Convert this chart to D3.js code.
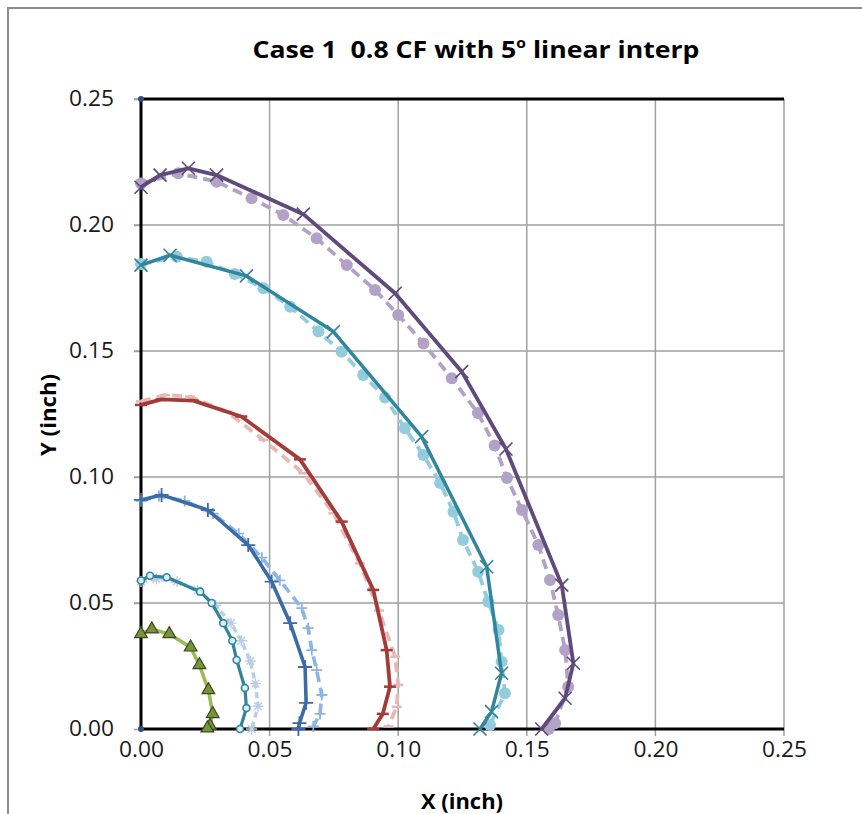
<!DOCTYPE html>
<html><head><meta charset="utf-8">
<script src="https://cdn.jsdelivr.net/npm/d3@7"></script>
<style>body{margin:0;background:#fff}svg{display:block}text{white-space:pre}</style>
</head><body>
<svg id="chart" width="862" height="814"></svg>
<script>
// ---- data ----
const xTicks = [0, 0.05, 0.10, 0.15, 0.20, 0.25];
const yTicks = [0, 0.05, 0.10, 0.15, 0.20, 0.25];

const purpleSolid = [[0,0.2150],[0.0074,0.2198],[0.0184,0.2225],[0.0294,0.2198],[0.0631,0.2043],[0.0988,0.1729],[0.1247,0.1418],[0.1419,0.1111],[0.1636,0.0571],[0.1681,0.0261],[0.1649,0.0122],[0.1558,0]];
const lavenderDashed = [[0,0.2165],[0.0145,0.2205],[0.0294,0.2172],[0.043,0.2106],[0.0553,0.204],[0.0683,0.1947],[0.08,0.1841],[0.091,0.1742],[0.1,0.1643],[0.1098,0.153],[0.1208,0.1392],[0.131,0.1254],[0.1375,0.1125],[0.1423,0.0996],[0.1481,0.0869],[0.1545,0.073],[0.159,0.0591],[0.1622,0.0452],[0.1649,0.0313],[0.1661,0.0168],[0.161,0.0023],[0.1585,0]];
const tealSolid = [[0,0.1841],[0.0113,0.188],[0.041,0.1798],[0.0748,0.1577],[0.1091,0.116],[0.1344,0.0644],[0.1402,0.0221],[0.1363,0.0069],[0.1318,0]];
const cyanDashed = [[0,0.1845],[0.0139,0.1874],[0.0255,0.1854],[0.0365,0.1806],[0.0476,0.1749],[0.058,0.1676],[0.069,0.1577],[0.078,0.1497],[0.0864,0.1405],[0.0949,0.1315],[0.1026,0.1193],[0.1098,0.1087],[0.1163,0.0976],[0.1215,0.0862],[0.1252,0.075],[0.1311,0.0624],[0.135,0.0505],[0.139,0.0393],[0.1402,0.0267],[0.1415,0.0142],[0.1357,0.0016]];
const redSolid = [[0,0.1286],[0.008,0.1308],[0.0203,0.1303],[0.039,0.124],[0.0618,0.107],[0.078,0.0823],[0.0903,0.0552],[0.0955,0.0313],[0.0968,0.0168],[0.094,0.006],[0.0903,0]];
const pinkDashed = [[0,0.1300],[0.0093,0.1325],[0.019,0.1319],[0.0333,0.126],[0.0476,0.1147],[0.0631,0.1015],[0.0748,0.0856],[0.0851,0.0657],[0.0925,0.047],[0.0988,0.0287],[0.1,0.0175],[0.0994,0.0088],[0.0962,0.001]];
const blueSolid = [[0,0.0909],[0.008,0.0929],[0.026,0.0869],[0.0417,0.073],[0.0508,0.0585],[0.058,0.042],[0.0638,0.0246],[0.0642,0.0104],[0.0616,0.0023],[0.0612,0]];
const lightBlueDashed = [[0,0.0905],[0.007,0.0925],[0.017,0.0905],[0.028,0.0855],[0.038,0.0775],[0.047,0.068],[0.054,0.059],[0.0625,0.048],[0.065,0.040],[0.0664,0.0313],[0.0683,0.0234],[0.0703,0.0135],[0.0696,0.006],[0.067,0.001]];
const innerTealSolid = [[0,0.0589],[0.0035,0.0608],[0.010,0.0602],[0.023,0.0545],[0.0275,0.050],[0.032,0.042],[0.0355,0.035],[0.0372,0.0274],[0.0404,0.0163],[0.041,0.0083],[0.0385,0]];
const paleDashed = [[0,0.0585],[0.006,0.0595],[0.014,0.0585],[0.022,0.055],[0.029,0.049],[0.035,0.042],[0.039,0.035],[0.0425,0.027],[0.0445,0.018],[0.0455,0.009],[0.043,0]];
const greenSolid = [[0,0.0377],[0.0042,0.0396],[0.011,0.0377],[0.0193,0.0324],[0.0227,0.0254],[0.0262,0.0155],[0.0279,0.006],[0.0268,0.0013],[0.0258,0.0003]];
const cornerDots = [[0,0.25],[0,0]];

// ---- styles ----
const series = [
  {d: lavenderDashed, color:"#B3A2C7", dash:"10,6", marker:"circle", mfill:"#B3A2C7", r:6, w:3.8},
  {d: purpleSolid, color:"#604A7B", dash:null, marker:"x", r:6.5, w:3.8},
  {d: cyanDashed, color:"#93CDDD", dash:"10,6", marker:"circle", mfill:"#93CDDD", r:6, w:3.8},
  {d: tealSolid, color:"#31859C", dash:null, marker:"x", r:6.5, w:3.5},
  {d: pinkDashed, color:"#E6B9B8", dash:"10,6", marker:"dash", r:5, w:3.8},
  {d: redSolid, color:"#A33C38", dash:null, marker:"dash", r:6, w:3.8},
  {d: lightBlueDashed, color:"#8DB4E2", dash:"10,6", marker:"plus", r:5.5, w:3.6},
  {d: blueSolid, color:"#3B6CA8", dash:null, marker:"plus", r:7, w:3.6},
  {d: paleDashed, color:"#B9CDE5", dash:"6,4", marker:"aster", r:5.5, w:3.4},
  {d: innerTealSolid, color:"#31849B", dash:null, marker:"ocircle", r:3.5, w:3.2},
  {d: greenSolid, color:"#9BBB59", dash:null, marker:"tri", r:6, w:3.6}
];

const svg = d3.select("#chart");
const M = {l:141, r:784, t:99, b:729};
const x = d3.scaleLinear().domain([0,0.25]).range([M.l, M.r]);
const y = d3.scaleLinear().domain([0,0.25]).range([M.b, M.t]);

// frame
svg.append("rect").attr("x",8).attr("y",8).attr("width",880).attr("height",830)
  .attr("fill","none").attr("stroke","#8c8c8c").attr("stroke-width",2);

// gridlines
const grid = svg.append("g");
grid.selectAll(".vg").data(xTicks.slice(1)).join("line")
  .attr("x1",d=>x(d)).attr("x2",d=>x(d)).attr("y1",M.t).attr("y2",M.b+7)
  .attr("stroke","#a0a0a0").attr("stroke-width",1.5);
grid.selectAll(".hg").data(yTicks.slice(1)).join("line")
  .attr("x1",M.l-7).attr("x2",M.r).attr("y1",d=>y(d)).attr("y2",d=>y(d))
  .attr("stroke","#a0a0a0").attr("stroke-width",1.5);

// axes with labels
const xAxis = svg.append("g").attr("transform",`translate(0,${M.b})`)
  .call(d3.axisBottom(x).tickValues(xTicks).tickFormat(d3.format(".2f")).tickSize(0).tickPadding(26));
const yAxis = svg.append("g").attr("transform",`translate(${M.l},0)`)
  .call(d3.axisLeft(y).tickValues(yTicks).tickFormat(d3.format(".2f")).tickSizeInner(7).tickSizeOuter(0).tickPadding(20));
[xAxis,yAxis].forEach(a=>{
  a.select(".domain").remove();
  a.selectAll("text").attr("font-family","'Open Sans', sans-serif").attr("font-size",21)
    .attr("fill","#1a1a1a").attr("textLength",45).attr("lengthAdjust","spacingAndGlyphs");
});
yAxis.selectAll(".tick line").attr("stroke","#a0a0a0").attr("stroke-width",1.5);
xAxis.selectAll("text").attr("dy","0.1em");

// black axis lines
const ax = svg.append("g").attr("stroke","#000").attr("stroke-width",3);
ax.append("line").attr("x1",x(0)).attr("x2",x(0)).attr("y1",y(0.25)).attr("y2",y(0));
ax.append("line").attr("x1",x(0)).attr("x2",x(0.25)).attr("y1",y(0)).attr("y2",y(0));
ax.append("line").attr("x1",x(0)).attr("x2",x(0.25)).attr("y1",y(0.25)).attr("y2",y(0.25));

// series
const line = d3.line().x(d=>x(d[0])).y(d=>y(d[1]));
series.forEach(s=>{
  const g = svg.append("g");
  g.append("path").datum(s.d).attr("d",line).attr("fill","none")
    .attr("stroke",s.color).attr("stroke-width",s.w)
    .attr("stroke-dasharray",s.dash).attr("stroke-linejoin","round");
  const pts = g.selectAll("g.m").data(s.d).join("g")
    .attr("transform",d=>`translate(${x(d[0])},${y(d[1])})`);
  const r = s.r;
  if (s.marker==="circle") {
    pts.append("circle").attr("r",r).attr("fill",s.mfill).attr("stroke","none");
  } else if (s.marker==="ocircle") {
    pts.append("circle").attr("r",r).attr("fill","#dceef3").attr("stroke",s.color).attr("stroke-width",1.6);
  } else if (s.marker==="x") {
    pts.append("path").attr("d",`M${-r},${-r}L${r},${r}M${-r},${r}L${r},${-r}`)
      .attr("stroke",s.color).attr("stroke-width",1.6);
  } else if (s.marker==="dash") {
    pts.append("path").attr("d",`M${-r},0L${r},0`).attr("stroke",s.color).attr("stroke-width",2.5);
  } else if (s.marker==="plus") {
    pts.append("path").attr("d",`M${-r},0L${r},0M0,${-r}L0,${r}`).attr("stroke",s.color).attr("stroke-width",1.8);
  } else if (s.marker==="aster") {
    pts.append("path").attr("d",`M${-r},0L${r},0M0,${-r}L0,${r}M${-r*0.7},${-r*0.7}L${r*0.7},${r*0.7}M${-r*0.7},${r*0.7}L${r*0.7},${-r*0.7}`)
      .attr("stroke",s.color).attr("stroke-width",1.4);
  } else if (s.marker==="tri") {
    pts.append("path").attr("d",d3.symbol(d3.symbolTriangle, 70))
      .attr("fill","#77933C").attr("stroke","#3a4a1e").attr("stroke-width",1.2);
  }
});

// corner dots
svg.selectAll(".cd").data(cornerDots).join("circle")
  .attr("cx",d=>x(d[0])).attr("cy",d=>y(d[1])).attr("r",3).attr("fill","#2c4d75");

// titles
const title = svg.append("text").attr("x",476).attr("y",58).attr("text-anchor","middle")
  .attr("font-family","'Open Sans', sans-serif").attr("font-weight","bold").attr("font-size",24)
  .attr("fill","#000").attr("textLength",447).attr("lengthAdjust","spacingAndGlyphs");
title.append("tspan").text("Case 1  0.8 CF with 5");
title.append("tspan").attr("font-size",14).attr("dy","-10").text("o");
title.append("tspan").attr("dy","10").text(" linear interp");

svg.append("text").attr("x",462).attr("y",809).attr("text-anchor","middle")
  .attr("font-family","'Open Sans', sans-serif").attr("font-weight","bold").attr("font-size",21)
  .attr("textLength",82).attr("lengthAdjust","spacingAndGlyphs").text("X (inch)");
svg.append("text").attr("transform","translate(56,415) rotate(-90)").attr("text-anchor","middle")
  .attr("font-family","'Open Sans', sans-serif").attr("font-weight","bold").attr("font-size",21)
  .attr("textLength",82).attr("lengthAdjust","spacingAndGlyphs").text("Y (inch)");
</script>
</body></html>
